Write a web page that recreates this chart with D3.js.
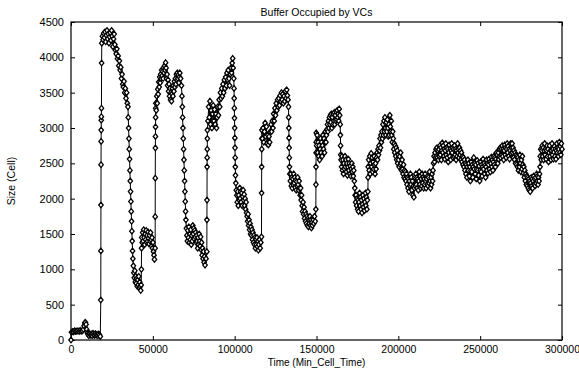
<!DOCTYPE html>
<html>
<head>
<meta charset="utf-8">
<script src="https://cdn.jsdelivr.net/npm/d3@7"></script>
<style>
  body { margin: 0; background: #fff; }
  svg { display: block; font-family: "Liberation Sans", Arial, Helvetica, sans-serif; }
</style>
</head>
<body>
<div id="chart"></div>
<script>
// buffer occupancy samples: [time (Min_Cell_Time), size (cells)]
const bufferSamples = [
  [0,0],[300,110],[900,120],[1500,115],[2200,130],[2800,120],[3500,125],[4200,130],[5000,120],[5600,135],[6200,125],[7000,130],[7600,150],
  [8000,200],[8400,240],[8800,250],[9200,220],[9600,150],[10000,100],
  [10400,80],[10900,60],[11400,90],[11900,70],[12400,85],[12900,60],[13400,95],[13900,75],[14400,65],[14900,90],[15400,70],[15900,80],[16400,60],[16900,85],[17400,70],[17900,50],
  [18200,566],[18250,1260],[18300,1910],[18350,2480],[18400,2810],[18450,2970],[18500,3110],[18550,3160],[18600,3280],[18700,3920],[18800,4200],
  [19200,4300],[19600,4250],[20000,4340],[20400,4280],[20800,4360],[21200,4220],[21600,4310],[22000,4380],[22400,4260],[22800,4330],[23200,4200],[23600,4290],[24000,4350],[24400,4240],[24800,4380],[25200,4300],[25600,4150],[26000,4260],[26400,4330],[26800,4180],
  [27200,4100],[27600,4050],[28000,4120],[28400,3980],[28800,4020],[29200,3880],[29600,3950],[30000,3820],[30400,3860],[30800,3700],[31200,3760],[31600,3620],[32000,3580],[32400,3660],[32800,3500],[33200,3560],[33600,3420],[34000,3500],[34400,3350],
  [34800,3300],[35000,3150],[35200,3000],[35400,2850],[35600,2700],[35800,2560],[36000,2400],[36200,2250],[36400,2100],[36600,1960],[36800,1820],[37000,1680],[37200,1540],[37400,1400],[37600,1260],[37800,1150],
  [38100,1050],[38400,950],[38700,880],[39000,980],[39300,820],[39600,900],[39900,800],[40200,870],[40500,760],[40800,850],[41100,780],[41400,900],[41700,740],[42000,820],[42300,760],[42600,700],[42900,780],
  [43000,1000],[43100,1300],[43200,1450],
  [43500,1380],[43800,1520],[44100,1400],[44400,1560],[44700,1450],[45000,1350],[45300,1500],[45600,1420],[45900,1550],[46200,1380],[46500,1480],[46800,1400],[47100,1530],[47400,1440],[47700,1360],[48000,1480],[48300,1400],[48600,1520],[48900,1420],[49200,1330],[49500,1450],[49800,1300],[50100,1380],[50400,1250],[50700,1200],[51000,1140],
  [51400,1300],[51450,1745],[51500,2290],[51550,2717],[51600,2880],[51650,3015],[51700,3150],[51750,3280],[51800,3350],
  [52100,3250],[52400,3450],[52700,3350],[53000,3550],[53300,3480],[53600,3650],[53900,3580],[54200,3720],[54500,3640],[54800,3760],[55100,3700],[55400,3820],[55700,3740],[56000,3800],[56300,3700],[56600,3850],[56900,3780],[57200,3880],[57500,3820],[57800,3925],[58100,3850],
  [58400,3700],[58700,3760],[59000,3600],[59300,3680],[59600,3520],[59900,3620],[60200,3450],[60500,3560],[60800,3400],[61100,3500],[61400,3380],[61700,3480],[62000,3560],[62300,3450],[62600,3600],[62900,3520],[63200,3660],[63500,3580],[63800,3700],[64100,3620],[64400,3760],[64700,3680],[65000,3780],[65300,3700],[65600,3750],[65900,3640],[66200,3720],[66500,3780],[67000,3700],[67500,3600],
  [67800,3450],[68000,3300],[68200,3150],[68400,3000],[68600,2850],[68800,2700],[69000,2550],[69200,2400],[69400,2250],[69600,2100],[69800,1960],[70000,1820],[70200,1700],[70500,1580],[70800,1480],
  [71100,1400],[71400,1550],[71700,1450],[72000,1600],[72300,1380],[72600,1500],[72900,1420],[73200,1560],[73500,1350],[73800,1480],[74100,1400],[74400,1620],[74700,1500],[75000,1580],[75300,1430],[75600,1550],[75900,1460],[76200,1520],[76500,1380],[76800,1480],[77100,1400],[77400,1300],[77700,1450],[78000,1350],[78300,1500],[78600,1400],[78900,1330],[79200,1460],[79500,1280],[79800,1380],[80100,1200],[80400,1300],[80700,1150],[81000,1250],[81300,1100],[81600,1180],[81900,1060],
  [82500,1150],[83000,1250],[83050,1700],[83100,1980],[83150,2450],[83200,2580],[83250,2700],[83300,2850],[83350,2970],
  [83700,3100],[84100,3300],[84500,3150],[84900,3380],[85300,3050],[85700,3250],[86100,3000],[86500,3200],[86900,3320],[87300,3100],[87700,3260],[88100,3050],[88500,3200],[88900,3000],[89300,3150],[89700,3300],[90100,3180],[90500,3400],[90900,3300],[91300,3500],[91700,3420],[92100,3560],[92500,3450],[92900,3620],[93300,3500],[93700,3680],[94100,3560],[94500,3720],[94900,3600],[95300,3780],[95700,3680],[96100,3820],[96500,3700],[96900,3600],[97300,3760],[97700,3850],[98100,3780],[98500,3920],[98800,3985],[99100,3850],
  [99500,3700],[99600,3560],[99700,3420],[99800,3280],[99900,3140],[100000,3000],[100100,2860],[100200,2720],[100300,2580],[100400,2450],[100500,2330],[100700,2220],[101000,2120],[101300,2050],
  [101600,1950],[101900,2100],[102200,1900],[102500,2050],[102800,1980],[103100,2150],[103400,2000],[103700,2100],[104000,1950],[104300,2080],[104600,1900],[104900,2030],[105200,2120],[105500,1980],[105800,2060],[106100,1900],[106400,2000],[106700,1850],[107000,1950],[107300,1800],
  [107600,1750],[107900,1680],[108200,1780],[108500,1620],[108800,1700],[109100,1560],[109400,1650],[109700,1500],[110000,1600],[110300,1480],[110600,1560],[110900,1420],[111200,1520],[111500,1380],[111800,1480],[112100,1350],[112400,1450],[112700,1300],[113000,1420],[113300,1350],[113600,1450],[113900,1320],[114200,1400],[114500,1270],[114800,1350],[115200,1420],[115600,1300],[116000,1380],
  [116400,1460],[116450,2080],[116500,2450],[116550,2700],[116600,2850],[116650,2970],
  [117000,2850],[117400,3000],[117800,2800],[118200,2950],[118600,3070],[119000,2880],[119400,3020],[119800,2780],[120200,2900],[120600,2760],[121000,2880],[121400,2800],[121800,2950],[122200,3050],[122600,2950],[123000,3100],[123400,3000],[123800,3200],[124200,3100],[124600,3280],[125000,3180],[125400,3350],[125800,3250],[126200,3400],[126600,3300],[127000,3420],[127400,3320],[127800,3460],[128200,3380],[128600,3500],[129000,3400],[129400,3480],[129800,3350],[130200,3450],[130600,3380],[131000,3520],[131400,3420],[131800,3540],[132200,3460],[132600,3400],
  [132900,3300],[133000,3150],[133100,3000],[133200,2860],[133300,2720],[133400,2580],[133500,2450],[133700,2350],
  [134000,2250],[134300,2350],[134600,2180],[134900,2300],[135200,2150],[135500,2280],[135800,2200],[136100,2350],[136400,2220],[136700,2300],[137000,2160],[137300,2260],[137600,2120],[137900,2240],[138200,2180],[138500,2300],[138800,2200],[139100,2120],[139400,2250],[139700,2150],[140000,2050],[140300,2150],
  [140600,1980],[140900,2050],[141200,1900],[141500,1820],[141800,1950],[142100,1780],[142400,1880],[142700,1720],[143000,1820],[143300,1680],[143600,1780],[143900,1650],[144200,1750],[144500,1620],[144800,1720],[145100,1600],[145400,1700],[145700,1650],[146000,1750],[146300,1620],[146600,1700],[146900,1585],[147200,1660],[147500,1620],[148000,1700],[148400,1650],[148800,1750],[149200,1680],
  [149600,1850],[149650,2200],[149700,2450],[149750,2650],[149800,2800],[149850,2930],
  [150100,2750],[150400,2900],[150700,2650],[151000,2800],[151300,2600],[151600,2750],[151900,2550],[152200,2700],[152500,2850],[152800,2650],[153100,2800],[153400,2600],[153700,2750],[154000,2900],[154300,2700],[154600,2850],[154900,2650],[155200,2800],[155500,2950],[155800,2800],
  [156100,2900],[156400,2980],[156700,3050],[157000,2950],[157300,3100],[157600,3000],[157900,3150],[158200,3050],[158500,3180],[158800,3080],[159100,3200],[159400,3000],[159700,3150],[160000,3050],[160300,3200],[160600,3100],[160900,3220],[161200,3050],[161500,3180],[161800,3100],[162100,3230],[162400,3120],[162700,3250],[163000,3150],[163300,3200],[163600,3100],[163900,3270],[164200,3180],
  [164500,3050],[164600,2900],[164700,2750],[164800,2620],
  [165000,2550],[165300,2450],[165600,2600],[165900,2400],[166200,2550],[166500,2350],[166800,2500],[167100,2420],[167400,2600],[167700,2450],[168000,2550],[168300,2380],[168600,2500],[168900,2330],[169200,2450],[169500,2560],[169800,2400],[170100,2500],[170400,2350],[170700,2460],[171000,2320],[171300,2420],[171600,2500],[171900,2380],[172200,2450],[172500,2320],[172800,2400],[173100,2250],[173400,2150],[173600,2050],
  [173900,1950],[174200,2050],[174500,1900],[174800,2000],[175100,1850],[175400,1980],[175700,1820],[176000,1950],[176300,2080],[176600,1900],[176900,2020],[177200,1850],[177500,1980],[177800,1800],[178100,1920],[178400,2050],[178700,1880],[179000,2000],[179300,1830],[179600,1950],[179900,2080],[180200,1900],[180500,2020],[180800,1850],[181100,1980],
  [181400,2100],[181500,2300],[181600,2450],
  [181900,2550],[182200,2400],[182500,2600],[182800,2350],[183100,2500],[183400,2640],[183700,2450],[184000,2580],[184300,2380],[184600,2520],[184900,2420],[185200,2600],[185500,2480],[185800,2350],[186100,2500],[186400,2420],[186700,2580],
  [187000,2650],[187300,2550],[187600,2700],[187900,2620],[188200,2750],[188500,2680],[188800,2850],[189100,2720],[189400,2900],[189700,2800],[190000,2950],[190300,2850],[190600,3050],[190900,2900],[191200,3100],[191500,2950],[191800,3150],[192100,3000],[192400,2900],[192700,3080],[193000,2950],[193300,3120],[193600,3000],[193900,2880],[194200,3050],[194500,2900],[194800,3180],[195100,3020],[195400,2950],[195700,3100],[196000,2900],[196300,2800],
  [196600,2950],[196900,2850],[197200,2700],[197500,2780],[197800,2650],[198100,2750],[198400,2600],[198700,2720],[199000,2550],[199300,2680],[199600,2500],[199900,2620],[200200,2550],[200500,2450],[200800,2600],[201100,2480],[201400,2650],[201700,2500],[202000,2400],[202300,2550],[202600,2420],[202900,2350],[203200,2480],[203500,2300],
  [203800,2400],[204100,2280],[204400,2380],[204700,2250],[205000,2350],[205300,2200],[205600,2300],
  [205900,2150],[206200,2280],[206500,2100],[206800,2250],[207100,2180],[207400,2350],[207700,2200],[208000,2300],[208300,2120],[208600,2250],[208900,2050],[209200,2180],[209500,2020],[209800,2150],[210100,2300],[210400,2180],[210700,2350],[211000,2200],[211300,2300],[211600,2150],[211900,2280],[212200,2120],[212500,2250],[212800,2380],[213100,2200],[213400,2320],[213700,2150],[214000,2280],[214300,2180],[214600,2350],[214900,2220],[215200,2300],[215500,2150],[215800,2280],[216100,2200],[216400,2350],[216700,2250],[217000,2150],[217300,2280],[217600,2200],[217900,2320],[218200,2180],[218500,2300],[218800,2220],[219100,2380],[219400,2250],[219700,2150],[220000,2300],[220300,2200],[220600,2350],[220900,2250],[221200,2400],
  [221500,2500],[221800,2600],[222100,2520],[222400,2650],[222700,2580],[223000,2700],[223300,2600],[223600,2720],[223900,2580],[224200,2680],[224500,2550],[224800,2700],
  [225100,2600],[225400,2750],[225700,2620],[226000,2720],[226300,2550],[226600,2680],[226900,2790],[227200,2650],[227500,2750],[227800,2600],[228100,2700],[228400,2560],[228700,2680],[229000,2780],[229300,2620],[229600,2720],[229900,2580],[230200,2700],[230500,2520],[230800,2650],[231100,2760],[231400,2600],[231700,2700],[232000,2550],[232300,2680],[232600,2780],[232900,2650],[233200,2720],[233500,2580],[233800,2700],[234100,2600],[234400,2750],[234700,2620],[235000,2700],[235300,2550],[235600,2680],[235900,2600],[236200,2780],[236500,2650],[236800,2700],[237100,2580],[237400,2720],[237700,2620],[238000,2680],[238300,2550],[238600,2650],[238900,2520],[239200,2600],[239500,2480],[239800,2580],[240100,2450],
  [240400,2550],[240700,2400],[241000,2500],[241300,2350],[241600,2480],[241900,2300],[242200,2450],[242500,2550],[242800,2400],[243100,2500],[243400,2320],[243700,2450],[244000,2250],[244300,2400],[244600,2520],[244900,2380],[245200,2480],[245500,2300],[245800,2450],[246100,2580],[246400,2420],[246700,2500],[247000,2350],[247300,2480],[247600,2280],[247900,2420],[248200,2540],[248500,2400],[248800,2500],[249100,2330],[249400,2460],[249700,2250],[250000,2400],[250300,2520],[250600,2380],[250900,2480],[251200,2320],[251500,2450],[251800,2560],[252100,2420],[252400,2500],[252700,2350],[253000,2470],[253300,2300],[253600,2450],[253900,2550],[254200,2400],[254500,2500],[254800,2360],[255100,2480],[255400,2560],[255700,2420],[256000,2520],[256300,2380],[256600,2500],[256900,2590],[257200,2450],[257500,2550],[257800,2400],[258100,2520],[258400,2600],[258700,2480],[259000,2580],[259300,2450],[259600,2560],[259900,2650],[260200,2520],[260500,2620],[260800,2500],[261100,2650],[261400,2560],[261700,2700],
  [262000,2600],[262300,2720],[262600,2580],[262900,2700],[263200,2620],[263500,2750],[263800,2600],[264100,2700],[264400,2550],[264700,2680],[265000,2760],[265300,2620],[265600,2720],[265900,2580],[266200,2700],[266500,2780],[266800,2650],[267100,2740],[267400,2600],[267700,2700],[268000,2560],[268300,2680],[268600,2780],[268900,2640],[269200,2720],[269500,2780],[269800,2650],[270100,2720],[270400,2580],
  [270700,2680],[271000,2550],[271300,2650],[271600,2500],[271900,2620],[272200,2480],[272500,2600],[272800,2450],[273100,2580],[273400,2400],[273700,2550],[274000,2450],[274300,2620],[274600,2500],[274900,2380],[275200,2550],[275500,2420],[275800,2600],[276100,2480],[276400,2360],
  [276700,2450],[277000,2300],[277300,2400],[277600,2250],[277900,2350],[278200,2200],[278500,2320],[278800,2180],[279100,2300],[279400,2150],[279700,2280],[280000,2120],[280300,2250],[280600,2100],[280900,2220],[281200,2300],[281500,2180],[281800,2280],[282100,2150],[282400,2250],[282700,2320],[283000,2200],[283300,2280],[283600,2180],[283900,2300],[284200,2220],[284500,2350],[284800,2250],[285100,2320],[285400,2200],[285700,2300],[286000,2250],[286300,2350],
  [286600,2450],[286700,2600],
  [287000,2700],[287300,2550],[287600,2680],[287900,2750],[288200,2600],[288500,2720],[288800,2550],[289100,2680],[289400,2780],[289700,2620],[290000,2700],[290300,2560],[290600,2680],[290900,2750],[291200,2600],[291500,2700],[291800,2520],[292100,2650],[292400,2750],[292700,2600],[293000,2680],[293300,2550],[293600,2680],[293900,2780],[294200,2620],[294500,2700],[294800,2560],[295100,2660],[295400,2740],[295700,2600],[296000,2700],[296300,2560],[296600,2680],[296900,2780],[297200,2650],[297500,2720],[297800,2600],[298100,2700],[298400,2800],[298700,2650],[299000,2740],[299300,2620],[299600,2780],[300000,2700]
];

const xTicks = [0, 50000, 100000, 150000, 200000, 250000, 300000];
const yTicks = [0, 500, 1000, 1500, 2000, 2500, 3000, 3500, 4000, 4500];

const chartTitle = "Buffer Occupied by VCs";
const xLabel = "Time (Min_Cell_Time)";
const yLabel = "Size (Cell)";

const width = 579;
const height = 368;
const margin = { top: 22, right: 17, bottom: 28, left: 71 };
const innerW = width - margin.left - margin.right;
const innerH = height - margin.top - margin.bottom;

const xAccessor = d => d[0];
const yAccessor = d => d[1];

const svg = d3.select("#chart")
  .append("svg")
  .attr("width", width)
  .attr("height", height);

const bounds = svg.append("g")
  .attr("transform", `translate(${margin.left},${margin.top})`);

const xScale = d3.scaleLinear()
  .domain([0, 300000])
  .range([0, innerW]);

const yScale = d3.scaleLinear()
  .domain([0, 4500])
  .range([innerH, 0]);

// axes, ticks pointing inward, mirrored on top/right
const xAxis = bounds.append("g")
  .attr("transform", `translate(0,${innerH})`)
  .call(d3.axisBottom(xScale).tickValues(xTicks).tickSize(-4).tickPadding(6).tickFormat(d3.format("d")));

const yAxis = bounds.append("g")
  .call(d3.axisLeft(yScale).tickValues(yTicks).tickSize(-4).tickPadding(7).tickFormat(d3.format("d")));

bounds.append("g")
  .call(d3.axisTop(xScale).tickValues(xTicks).tickSize(-4).tickFormat(""));

bounds.append("g")
  .attr("transform", `translate(${innerW},0)`)
  .call(d3.axisRight(yScale).tickValues(yTicks).tickSize(-4).tickFormat(""));

bounds.selectAll(".domain").remove();
bounds.selectAll(".tick line").attr("stroke", "#000");

xAxis.selectAll("text")
  .attr("fill", "#000")
  .style("font-size", "10.5px");
yAxis.selectAll("text")
  .attr("fill", "#000")
  .style("font-size", "11px");

bounds.append("rect")
  .attr("width", innerW)
  .attr("height", innerH)
  .attr("fill", "none")
  .attr("stroke", "#000")
  .attr("stroke-width", 1.2);

// data
const lineGenerator = d3.line()
  .x(d => xScale(xAccessor(d)))
  .y(d => yScale(yAccessor(d)));

bounds.append("path")
  .attr("d", lineGenerator(bufferSamples))
  .attr("fill", "none")
  .attr("stroke", "#000")
  .attr("stroke-width", 1);

const diamond = {
  draw(context, size) {
    const r = Math.sqrt(size) / 2;
    context.moveTo(0, -r * 1.25);
    context.lineTo(r, 0);
    context.lineTo(0, r * 1.25);
    context.lineTo(-r, 0);
    context.closePath();
  }
};

bounds.append("g")
  .selectAll("path")
  .data(bufferSamples)
  .join("path")
  .attr("transform", d => `translate(${xScale(xAccessor(d))},${yScale(yAccessor(d))})`)
  .attr("d", d3.symbol().type(diamond).size(20))
  .attr("fill", "#fff")
  .attr("stroke", "#000")
  .attr("stroke-width", 1.3);

// labels
svg.append("text")
  .attr("x", margin.left + innerW / 2)
  .attr("y", 16)
  .attr("text-anchor", "middle")
  .style("font-size", "10.5px")
  .text(chartTitle);

svg.append("text")
  .attr("x", margin.left + innerW / 2)
  .attr("y", 366)
  .attr("text-anchor", "middle")
  .style("font-size", "10px")
  .text(xLabel);

svg.append("text")
  .attr("transform", `translate(15,${margin.top + innerH / 2}) rotate(-90)`)
  .attr("text-anchor", "middle")
  .style("font-size", "10.5px")
  .text(yLabel);
</script>
</body>
</html>
